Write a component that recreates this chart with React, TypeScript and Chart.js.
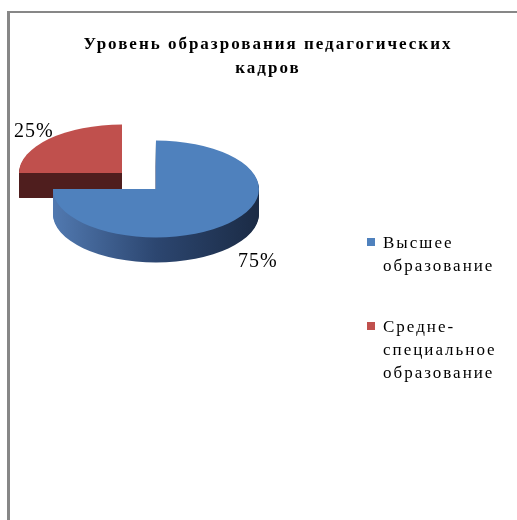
import React, { useEffect, useRef } from "react";
import { Chart, registerables } from "chart.js";

Chart.register(...registerables);

// ---- data ----
const TITLE_LINES = ["Уровень образрования педагогических", "кадров"];
const CATEGORIES = ["Высшее образование", "Средне-специальное образование"];
const VALUES = [75, 25];

// ---- styles ----
const TOP_COLORS = ["#4f81bd", "#c0504d"];
const SIDE_COLORS = [["#5179b0", "#2c4670", "#1b2b45"], ["#4f1e1e"]];
const FONT_FAMILY = '"Liberation Serif", "Times New Roman", serif';
const SQUASH = 0.47;
const DEPTH = 25;
const EXPLODE = 24;
const LABEL_FACTORS = [1.4, 1.21];

const TITLE_BASELINE = 36;
const TITLE_LINE_HEIGHT = 24;
const LEGEND_X = 357;
const LEGEND_TOP = 225;
const LEGEND_LINE = 23;
const LEGEND_ITEM_GAP = 61;
const LEGEND_MAX_WIDTH = 130;

function wrapText(ctx: CanvasRenderingContext2D, text: string, maxWidth: number): string[] {
  const tokens = text.match(/[^\s-]+-?|\s+/g) || [text];
  const lines: string[] = [];
  let cur = "";
  for (const t of tokens) {
    if (/^\s+$/.test(t)) {
      cur += " ";
      continue;
    }
    const trial = cur + t;
    if (cur.trim() && ctx.measureText(trial.trim()).width > maxWidth) {
      lines.push(cur.trim());
      cur = t;
    } else {
      cur = trial;
    }
  }
  if (cur.trim()) lines.push(cur.trim());
  return lines;
}

const pie3d = {
  id: "pie3d",
  beforeDatasetsDraw(chart: any) {
    const ctx: CanvasRenderingContext2D = chart.ctx;
    const arcs = chart.getDatasetMeta(0).data as any[];
    if (!arcs.length) return false;
    const cy0 = arcs[0].y;
    const mid = (a: any) => (a.startAngle + a.endAngle) / 2;
    const order = arcs
      .map((_, i) => i)
      .sort((i, j) => Math.sin(mid(arcs[i])) - Math.sin(mid(arcs[j])));
    const squash = () => {
      ctx.translate(0, cy0);
      ctx.scale(1, SQUASH);
      ctx.translate(0, -cy0);
    };
    for (const i of order) {
      const a = arcs[i];
      const h = mid(a);
      const cx = a.x + Math.cos(h) * EXPLODE;
      const cy = a.y + Math.sin(h) * EXPLODE;
      const r = a.outerRadius;
      const path = () => {
        ctx.beginPath();
        ctx.moveTo(cx, cy);
        ctx.arc(cx, cy, r, a.startAngle, a.endAngle);
        ctx.closePath();
      };
      const sc = SIDE_COLORS[i % SIDE_COLORS.length];
      let side: any = sc[0];
      if (sc.length > 1) {
        const g = ctx.createLinearGradient(cx - r, 0, cx + r, 0);
        sc.forEach((c, k) => g.addColorStop(k / (sc.length - 1), c));
        side = g;
      }
      for (let d = DEPTH; d >= 1; d--) {
        ctx.save();
        ctx.translate(0, d);
        squash();
        path();
        ctx.fillStyle = side;
        ctx.fill();
        ctx.restore();
      }
      ctx.save();
      squash();
      path();
      ctx.fillStyle = TOP_COLORS[i % TOP_COLORS.length];
      ctx.fill();
      ctx.restore();
    }
    return false;
  },
  afterDraw(chart: any) {
    const ctx: CanvasRenderingContext2D = chart.ctx;
    const arcs = chart.getDatasetMeta(0).data as any[];
    const cy0 = arcs.length ? arcs[0].y : 0;
    const total = VALUES.reduce((s, v) => s + v, 0);

    ctx.save();
    ctx.fillStyle = "#000";

    // title
    (ctx as any).letterSpacing = "2px";
    ctx.font = `bold 17px ${FONT_FAMILY}`;
    ctx.textAlign = "center";
    ctx.textBaseline = "alphabetic";
    TITLE_LINES.forEach((line, k) => {
      ctx.fillText(line, chart.width / 2, TITLE_BASELINE + k * TITLE_LINE_HEIGHT);
    });

    // percentage labels
    (ctx as any).letterSpacing = "1px";
    ctx.font = `20px ${FONT_FAMILY}`;
    ctx.textBaseline = "middle";
    arcs.forEach((a, i) => {
      const h = (a.startAngle + a.endAngle) / 2;
      const cx = a.x + Math.cos(h) * EXPLODE;
      const cy = a.y + Math.sin(h) * EXPLODE;
      const f = LABEL_FACTORS[i % LABEL_FACTORS.length];
      const ux = cx + Math.cos(h) * a.outerRadius * f;
      const uy = cy + Math.sin(h) * a.outerRadius * f;
      const sy = cy0 + (uy - cy0) * SQUASH + (Math.sin(h) > 0 ? DEPTH : 0);
      const pct = Math.round((VALUES[i] / total) * 100) + "%";
      ctx.fillText(pct, ux, sy);
    });

    // legend
    (ctx as any).letterSpacing = "2px";
    ctx.font = `17px ${FONT_FAMILY}`;
    ctx.textAlign = "left";
    ctx.textBaseline = "alphabetic";
    let y = LEGEND_TOP;
    CATEGORIES.forEach((cat, i) => {
      const lines = wrapText(ctx, cat, LEGEND_MAX_WIDTH);
      ctx.fillStyle = TOP_COLORS[i % TOP_COLORS.length];
      ctx.fillRect(LEGEND_X, y, 8, 8);
      ctx.fillStyle = "#000";
      lines.forEach((ln, k) => {
        ctx.fillText(ln, LEGEND_X + 16, y + 10 + k * LEGEND_LINE);
      });
      y = y + 10 + (lines.length - 1) * LEGEND_LINE + LEGEND_ITEM_GAP - 10;
    });
    ctx.restore();
  },
};

export default function App() {
  const ref = useRef<HTMLCanvasElement>(null);
  useEffect(() => {
    const chart = new Chart(ref.current as HTMLCanvasElement, {
      type: "pie",
      data: {
        labels: CATEGORIES,
        datasets: [{ data: VALUES, backgroundColor: TOP_COLORS, borderWidth: 0 }],
      },
      options: {
        responsive: false,
        animation: false,
        radius: 103,
        events: [],
        layout: { padding: { left: 0, top: 0, right: 258, bottom: 171 } },
        plugins: {
          legend: { display: false },
          title: { display: false },
          tooltip: { enabled: false },
        },
      } as any,
      plugins: [pie3d as any],
    });
    return () => chart.destroy();
  }, []);
  return (
    <div
      style={{
        position: "fixed",
        left: 0,
        top: 0,
        width: 517,
        height: 520,
        overflow: "hidden",
        background: "#fff",
      }}
    >
      <div
        style={{
          position: "absolute",
          left: 7,
          top: 11,
          width: 600,
          height: 600,
          borderLeft: "3px solid #878787",
          borderTop: "2px solid #878787",
          boxSizing: "border-box",
        }}
      />
      <canvas
        ref={ref}
        width={516}
        height={507}
        style={{ position: "absolute", left: 10, top: 13 }}
      />
    </div>
  );
}
